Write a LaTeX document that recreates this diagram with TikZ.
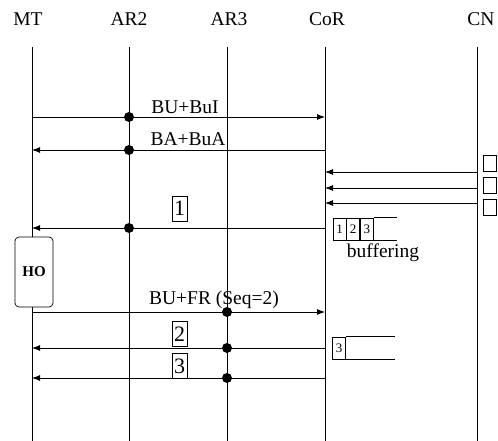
\documentclass[tikz,border=0pt]{standalone}
\usepackage{fontspec}
\setmainfont{Liberation Serif}
\usetikzlibrary{arrows.meta,positioning,calc}

\begin{document}
\begin{tikzpicture}[
    x=1pt, y=-1pt,
    font=\fontsize{19.5}{21}\selectfont,
    lifeline/.style={line width=0.9pt},
    msg/.style={-{Latex[length=8pt,width=6pt]}, line width=0.9pt},
    hop/.style={circle, fill=black, inner sep=0pt, minimum size=10pt},
    numbox/.style={draw, line width=0.7pt, inner sep=0pt, minimum width=15pt, minimum height=25pt, font=\fontsize{22}{22}\selectfont},
    pkt/.style={draw, line width=0.7pt, inner sep=0pt, minimum width=13pt, minimum height=16pt},
    cell/.style={draw, line width=0.7pt, inner sep=0pt, minimum width=13pt, minimum height=22pt, font=\fontsize{13}{13}\selectfont},
    lbl/.style={anchor=base}
]
\useasboundingbox (0,0) rectangle (498,441);

% entities and lifelines
\foreach \n/\x/\tx/\t in {mt/32/28/MT, ar2/129/129/AR2, ar3/227/229/AR3, cor/325/327/CoR}{
  \node (\n) at (\tx,19) {\t};
  \coordinate (\n-top) at (\x,47);
  \coordinate (\n-bot) at (\x,441);
  \draw[lifeline] (\n-top) -- (\n-bot);
}
\node[anchor=east] (cn) at (498,19) {CN};
\coordinate (cn-top) at (477,47);
\coordinate (cn-bot) at (477,441);
\draw[lifeline] (cn-top) -- (cn-bot);

% binding update with buffer initiation
\coordinate (bu-s) at (32,117);
\coordinate (bu-e) at (325,117);
\draw[msg] (bu-s) -- (bu-e);
\node[hop] (bu-dot) at (129,117) {};
\node[lbl] (bu-lbl) at (185,114) {BU+BuI};

% binding ack
\coordinate (ba-s) at (325,150);
\coordinate (ba-e) at (32,150);
\draw[msg] (ba-s) -- (ba-e);
\node[hop] (ba-dot) at (129,150) {};
\node[lbl] (ba-lbl) at (188,146) {BA+BuA};

% packets from CN
\foreach \i/\y in {1/172,2/188,3/203}{
  \coordinate (cn\i) at (477,\y);
  \coordinate (cor\i) at (325,\y);
  \draw[msg] (cn\i) -- (cor\i);
}
\node[pkt] (pkt1) at (490,163) {};
\node[pkt] (pkt2) at (490,185) {};
\node[pkt] (pkt3) at (490,207.5) {};

% packet 1 forwarded
\coordinate (p1-s) at (325,228);
\coordinate (p1-e) at (32,228);
\draw[msg] (p1-s) -- (p1-e);
\node[hop] (p1-dot) at (129,228) {};
\node[numbox] (p1-box) at (179.5,208.5) {1};

% buffer at CoR
\node[cell] (b1) at (339.5,229) {1};
\node[cell, right=0pt of b1] (b2) {2};
\node[cell, right=0pt of b2] (b3) {3};
\coordinate (b-end) at (397,229);
\draw[line width=0.7pt] (b3.north east) -- (b-end |- b3.north);
\draw[line width=0.7pt] (b3.south east) -- (b-end |- b3.south);
\node (buf) at (383,253) {buffering};

% handover
\node[draw, fill=white, rounded corners=4pt, line width=0.7pt, minimum width=38pt, minimum height=70pt, inner sep=0pt,
      font=\fontsize{15}{15}\selectfont\bfseries] (ho) at (34,272) {HO};

% binding update with forwarding request
\coordinate (fr-s) at (32,312);
\coordinate (fr-e) at (325,312);
\draw[msg] (fr-s) -- (fr-e);
\node[hop] (fr-dot) at (227,312) {};
\node[lbl] (fr-lbl) at (214,304) {BU+FR (Seq=2)};

% packets 2 and 3
\coordinate (p2-s) at (325,348);
\coordinate (p2-e) at (32,348);
\draw[msg] (p2-s) -- (p2-e);
\node[hop] (p2-dot) at (227,348) {};
\node[numbox] (p2-box) at (179.5,334) {2};

\coordinate (p3-s) at (325,378);
\coordinate (p3-e) at (32,378);
\draw[msg] (p3-s) -- (p3-e);
\node[hop] (p3-dot) at (227,378) {};
\node[numbox] (p3-box) at (179.5,366) {3};

% remaining buffer
\node[cell] (c3) at (339,348) {3};
\coordinate (c-end) at (395,348);
\draw[line width=0.7pt] (c3.north east) -- (c-end |- c3.north);
\draw[line width=0.7pt] (c3.south east) -- (c-end |- c3.south);
\end{tikzpicture}
\end{document}
